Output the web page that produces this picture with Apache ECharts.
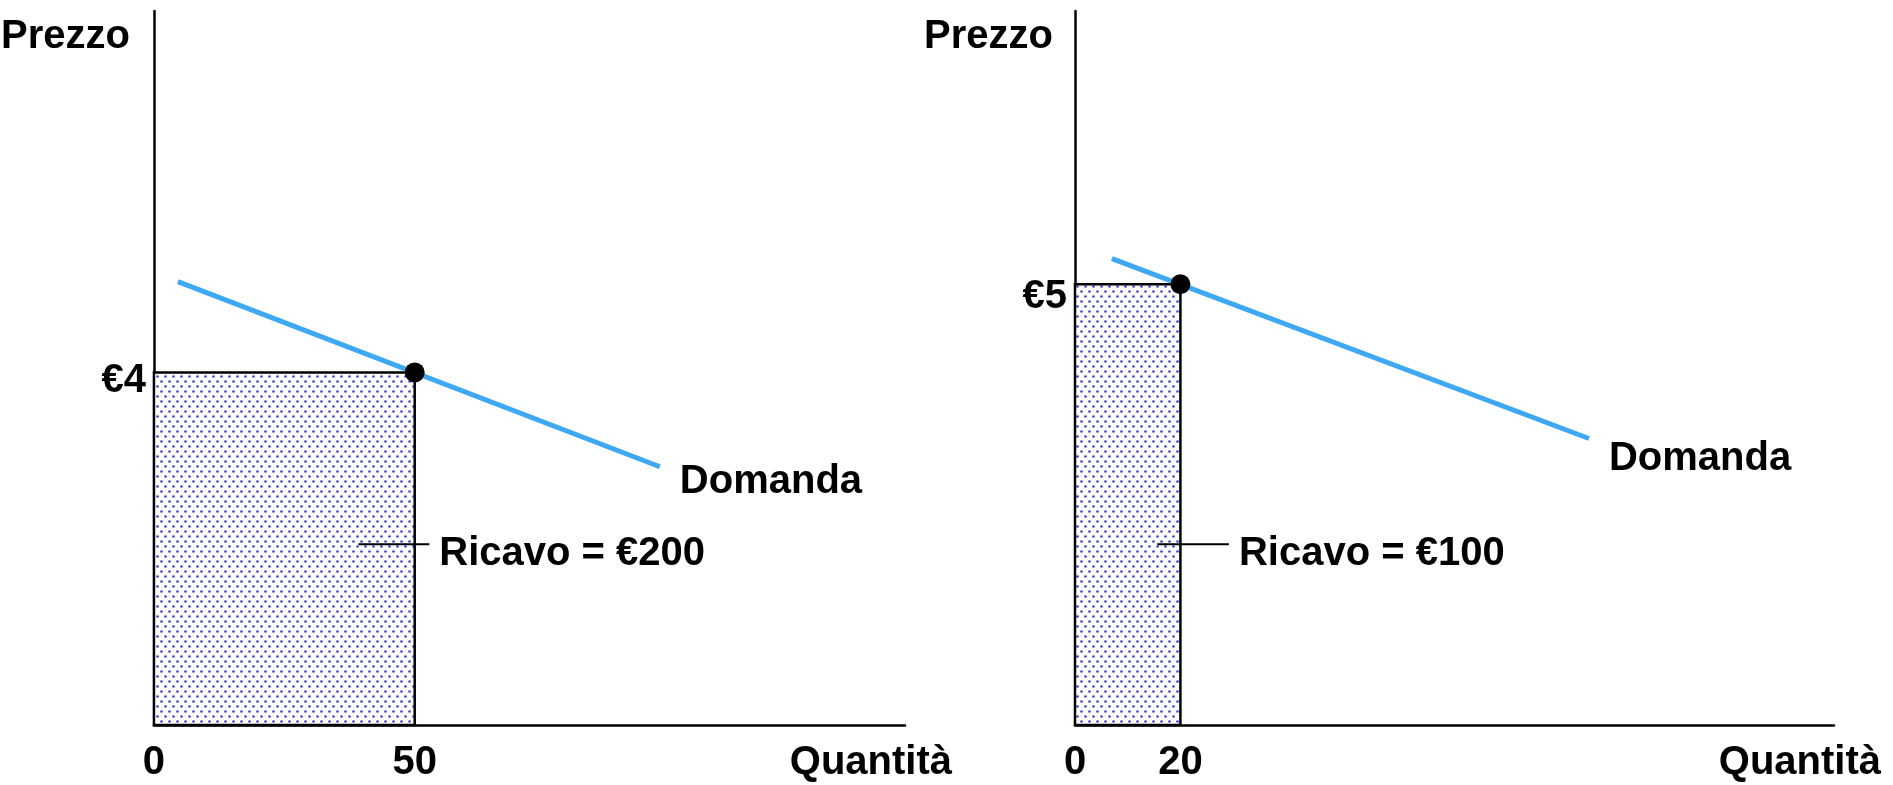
<!DOCTYPE html>
<html>
<head>
<meta charset="utf-8">
<script src="https://cdn.jsdelivr.net/npm/echarts@6/dist/echarts.min.js"></script>
<style>
  html, body { margin: 0; padding: 0; background: #ffffff; }
  #chart { width: 1893px; height: 785px; }
</style>
</head>
<body>
<div id="chart"></div>
<script>
// Two demand scenarios: price, quantity sold and the resulting revenue
const prices = [4, 5];
const quantities = [50, 20];
const priceTickLabels = ['€4', '€5'];
const revenueLabels = ['Ricavo = €200', 'Ricavo = €100'];

// Demand curves (quantity, price) endpoints
const demandLeft = [[4.6, 5.03], [97, 2.93]];
const demandRight = [[7, 5.29], [97.5, 3.25]];

// Leader lines pointing at the revenue areas (quantity, price)
const leaderLeft = [[39.2, 2.05], [52.8, 2.05]];
const leaderRight = [[15.6, 2.05], [29.2, 2.05]];

// Tick values shown on each axis
const xTicksLeft = [0, 50];
const xTicksRight = [0, 20];

const xName = 'Quantità';
const yName = 'Prezzo';
const demandName = 'Domanda';

const BLUE = '#3ea8f4';

// Condensed bold face for the labels when available, regular bold otherwise
function hasFont(name) {
  const g = document.createElement('canvas').getContext('2d');
  g.font = 'bold 40px monospace';
  const ref = g.measureText('Quantità Domanda').width;
  g.font = 'bold 40px "' + name + '", monospace';
  return Math.abs(g.measureText('Quantità Domanda').width - ref) > 1;
}
const NARROW = hasFont('Liberation Sans Narrow');
const labelText = NARROW
  ? { fontFamily: "'Liberation Sans Narrow', 'Liberation Sans', sans-serif", fontSize: 46, fontWeight: 'bold', color: '#000' }
  : { fontFamily: "'Liberation Sans', Arial, sans-serif", fontSize: 40, fontWeight: 'bold', color: '#000' };
const titleText = { fontFamily: "'Liberation Sans', Arial, sans-serif", fontSize: 40, fontWeight: 'bold', color: '#000' };

// Dotted fill for the revenue rectangle
function makeDotPattern() {
  const c = document.createElement('canvas');
  c.width = 8; c.height = 10;
  const g = c.getContext('2d');
  g.fillStyle = '#ffffff';
  g.fillRect(0, 0, 8, 10);
  g.fillStyle = '#4040d6';
  [[1.5, 1.5], [5.5, 6.5]].forEach(([x, y]) => {
    g.beginPath(); g.arc(x, y, 1.3, 0, Math.PI * 2); g.fill();
  });
  return { type: 'pattern', image: c, repeat: 'repeat' };
}
const dotFill = makeDotPattern();

function xAxisFor(gridIndex, ticks) {
  return {
    type: 'value', gridIndex, min: 0, max: 144,
    axisLine: { show: true, onZero: false, lineStyle: { color: '#000', width: 2.5 } },
    axisTick: { show: false },
    splitLine: { show: false },
    axisLabel: Object.assign({ customValues: ticks, margin: 18 }, labelText),
    name: xName, nameLocation: 'end', nameGap: 47,
    nameTextStyle: Object.assign({ align: 'right', verticalAlign: 'top', padding: [18, 0, 0, 0] }, labelText)
  };
}

function yAxisFor(gridIndex, tick, label, rightPad, drop) {
  return {
    type: 'value', gridIndex, min: 0, max: 8.1,
    axisLine: { show: true, onZero: false, lineStyle: { color: '#000', width: 2.5 } },
    axisTick: { show: false },
    splitLine: { show: false },
    axisLabel: {
      customValues: [tick], margin: 8,
      formatter: () => '{p|' + label + '}',
      rich: { p: Object.assign({ padding: [drop, 0, 0, 0] }, labelText) }
    },
    name: yName, nameLocation: 'end', nameGap: -26,
    nameTextStyle: Object.assign({ align: 'right', verticalAlign: 'middle', padding: [0, rightPad, 0, 0] }, titleText)
  };
}

function revenueRect(idx) {
  return {
    type: 'custom', xAxisIndex: idx, yAxisIndex: idx, z: 1,
    data: [[quantities[idx], prices[idx]]],
    encode: { x: 0, y: 1 },
    renderItem: (params, api) => {
      const tl = api.coord([0, api.value(1)]);
      const br = api.coord([api.value(0), 0]);
      return {
        type: 'rect',
        shape: { x: tl[0], y: tl[1], width: br[0] - tl[0], height: br[1] - tl[1] },
        style: { fill: dotFill, stroke: '#000', lineWidth: 2.5 }
      };
    }
  };
}

function demandLine(idx, data, offset) {
  return {
    type: 'line', xAxisIndex: idx, yAxisIndex: idx, z: 3,
    data, showSymbol: false, silent: true,
    lineStyle: { color: BLUE, width: 5 },
    endLabel: Object.assign({ show: true, formatter: demandName, distance: 0, offset, align: 'left', verticalAlign: 'middle' }, labelText)
  };
}

function leaderLine(idx, data, text) {
  return {
    type: 'line', xAxisIndex: idx, yAxisIndex: idx, z: 3,
    data, showSymbol: false, silent: true,
    lineStyle: { color: '#000', width: 2 },
    endLabel: Object.assign({ show: true, formatter: text, distance: 0, offset: [10, 10], align: 'left', verticalAlign: 'middle' }, labelText)
  };
}

function pricePoint(idx) {
  return {
    type: 'scatter', xAxisIndex: idx, yAxisIndex: idx, z: 5,
    data: [[quantities[idx], prices[idx]]],
    symbol: 'circle', symbolSize: 20,
    itemStyle: { color: '#000', opacity: 1 }
  };
}

const chart = echarts.init(document.getElementById('chart'), null, { renderer: 'canvas' });
chart.setOption({
  animation: false,
  backgroundColor: '#ffffff',
  textStyle: { fontFamily: labelText.fontFamily },
  grid: [
    { left: 150, top: 11, width: 755, height: 714 },
    { left: 1075, top: 11, width: 759, height: 714 }
  ],
  xAxis: [xAxisFor(0, xTicksLeft), xAxisFor(1, xTicksRight)],
  yAxis: [
    yAxisFor(0, prices[0], priceTickLabels[0], 24, 18),
    yAxisFor(1, prices[1], priceTickLabels[1], 22, 26)
  ],
  series: [
    revenueRect(0), revenueRect(1),
    demandLine(0, demandLeft, [20, 15]), demandLine(1, demandRight, [20, 20]),
    leaderLine(0, leaderLeft, revenueLabels[0]), leaderLine(1, leaderRight, revenueLabels[1]),
    pricePoint(0), pricePoint(1)
  ]
});
</script>
</body>
</html>
